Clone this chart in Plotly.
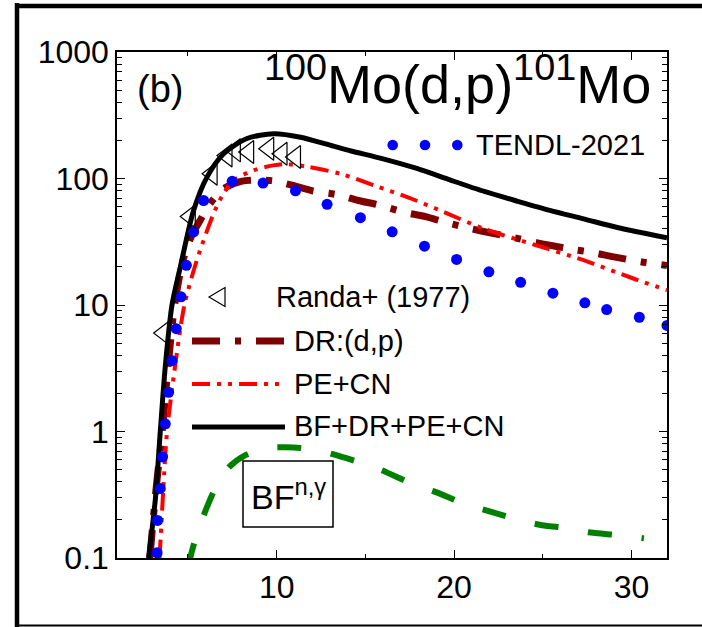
import plotly.graph_objects as go

# ---------------- data ----------------
tendl_x = [3.26, 3.29, 3.44, 3.57, 3.72, 3.91, 4.10, 4.34, 4.61, 4.91, 5.32, 5.88, 7.49, 9.23,
           11.06, 12.84, 14.72, 16.51, 18.33, 20.14, 21.96, 23.75, 25.57, 27.37, 28.6, 30.44, 32.0]
tendl_y = [0.11, 0.198, 0.355, 0.63, 1.15, 2.04, 3.63, 6.5, 11.6, 20.6, 37.9, 67, 95, 92,
           80, 62.5, 49, 37.9, 29.2, 22.9, 18.3, 15.1, 12.4, 10.4, 9.2, 8.0, 6.9]

randa_x = [3.63, 5.13, 6.36, 7.2, 7.67, 8.42, 9.55, 10.3, 11.06]
randa_y = [6.0, 50, 109, 152, 167, 162, 172, 157, 148]

dr_x = [2.85, 3.2, 3.55, 3.9, 4.25, 4.7, 5.2, 5.7, 6.2, 7.0, 8.0, 9.0, 9.8, 10.8, 12.0, 13.5,
        14.6, 15.7, 17.2, 18.4, 19.5, 21.0, 22.1, 23.4, 24.7, 26.7, 27.8, 29.0, 30.5, 32.0]
dr_y = [0.1, 0.35, 1.0, 3.5, 10, 22, 35, 47, 62, 83, 95, 97, 96, 89, 80, 74,
        67, 62, 54, 50, 45, 40, 37, 34, 31, 27.5, 26, 24, 22, 20.5]

pecn_x = [3.4, 3.6, 3.82, 4.3, 4.8, 5.5, 6.45, 7.0, 7.6, 8.7, 9.8, 10.6, 11.7, 13.6, 15.5,
          17.4, 19.2, 21.7, 24.5, 27.3, 30.1, 32.0]
pecn_y = [0.1, 0.33, 1.0, 3.5, 10, 22.6, 53, 76, 97, 116, 127, 130, 124, 109, 88,
          71, 56, 40, 30, 22.6, 16.2, 13.1]

tot_x = [2.78, 3.16, 3.44, 3.72, 4.1, 4.57, 5.32, 6.08, 7.01, 8.33, 9.83, 11.34, 13.2, 14.2,
         16.0, 17.9, 19.8, 21.7, 23.6, 25.4, 27.3, 29.2, 32.0]
tot_y = [0.1, 0.29, 1.0, 3.25, 10, 20, 56, 103, 157, 207, 226, 212, 180, 165,
         143, 120, 97, 79, 66, 56, 48, 41, 34]

bfng_x = [5.05, 5.13, 5.41, 6.08, 6.64, 7.3, 8.24, 9.46, 10.5, 11.34, 12.65, 14.5, 15.85,
          17.73, 18.86, 20.74, 22.05, 23.93, 25.16, 26.28, 27.5, 29.4, 30.7]
bfng_y = [0.085, 0.1, 0.14, 0.255, 0.38, 0.52, 0.65, 0.74, 0.75, 0.74, 0.69, 0.58, 0.50,
          0.38, 0.336, 0.264, 0.233, 0.195, 0.18, 0.173, 0.16, 0.151, 0.143]

x_tickvals = [10, 20, 30]
x_ticktext = ["10", "20", "30"]
y_tickvals = [0.1, 1, 10, 100, 1000]
y_ticktext = ["0.1", "1", "10", "100", "1000"]

legend_labels = ["TENDL-2021", "Randa+ (1977)", "DR:(d,p)", "PE+CN", "BF+DR+PE+CN"]
title_text = "<sup>100</sup>Mo(d,p)<sup>101</sup>Mo"
panel_text = "(b)"
box_text = "BF<sup>n,γ</sup>"

# ---------------- layout geometry (pixels) ----------------
W, H = 702, 627
L, R, T, B = 117, 667, 52, 558
FONT = "Liberation Sans, Arial, sans-serif"

def px(X):
    return (X - L) / (R - L)

def py(Y):
    return (B - Y) / (B - T)

DR_DASH = "28px,15px,6px,15px"
PE_DASH = "18px,7px,4px,7px,4px,7px"
GR_DASH = "24px,30px"

fig = go.Figure()
fig.add_trace(go.Scatter(x=bfng_x, y=bfng_y, mode="lines", line=dict(color="#008000", width=6, dash=GR_DASH, shape="spline", smoothing=0.8)))
fig.add_trace(go.Scatter(x=dr_x, y=dr_y, mode="lines", line=dict(color="#7f0000", width=7, dash=DR_DASH, shape="spline", smoothing=0.8)))
fig.add_trace(go.Scatter(x=pecn_x, y=pecn_y, mode="lines", line=dict(color="#ff0000", width=4, dash=PE_DASH, shape="spline", smoothing=0.8)))
fig.add_trace(go.Scatter(x=tot_x, y=tot_y, mode="lines", line=dict(color="black", width=5, shape="spline", smoothing=0.8)))
fig.add_trace(go.Scatter(x=tendl_x, y=tendl_y, mode="markers", marker=dict(color="#0000ff", size=11, line=dict(width=0))))
fig.add_trace(go.Scatter(x=randa_x, y=randa_y, mode="markers",
                         marker=dict(symbol="triangle-left-open", size=20, color="black", line=dict(width=1.2))))

shapes = []
# outer frame pieces
shapes.append(dict(type="line", xref="paper", yref="paper", x0=px(17), x1=px(17), y0=py(3), y1=py(627), line=dict(color="black", width=4.5)))
shapes.append(dict(type="line", xref="paper", yref="paper", x0=px(15), x1=px(702), y0=py(6), y1=py(6), line=dict(color="black", width=4.5)))
shapes.append(dict(type="line", xref="paper", yref="paper", x0=px(15), x1=px(702), y0=py(625.5), y1=py(625.5), line=dict(color="black", width=2)))

# legend samples
ys = {"dr": 341, "pe": 384, "tot": 427}
shapes.append(dict(type="line", xref="paper", yref="paper", x0=px(192), x1=px(286), y0=py(ys["dr"]), y1=py(ys["dr"]), line=dict(color="#7f0000", width=7, dash=DR_DASH)))
shapes.append(dict(type="line", xref="paper", yref="paper", x0=px(192), x1=px(284), y0=py(ys["pe"]), y1=py(ys["pe"]), line=dict(color="#ff0000", width=4, dash=PE_DASH)))
shapes.append(dict(type="line", xref="paper", yref="paper", x0=px(192), x1=px(285), y0=py(ys["tot"]), y1=py(ys["tot"]), line=dict(color="black", width=5)))
for cx in (392.7, 425.0, 457.3):
    r = 5.3
    shapes.append(dict(type="circle", xref="paper", yref="paper", x0=px(cx - r), x1=px(cx + r), y0=py(145 + r), y1=py(145 - r),
                       fillcolor="#0000ff", line=dict(width=0)))
# legend triangle (open, pointing left)
tx, ty = 217, 297
shapes.append(dict(type="path", xref="paper", yref="paper",
                   path="M {a},{b} L {c},{d} L {c},{e} Z".format(a=px(tx - 8), b=py(ty), c=px(tx + 8), d=py(ty - 9.5), e=py(ty + 9.5)),
                   line=dict(color="black", width=1.2)))
# BF box
shapes.append(dict(type="rect", xref="paper", yref="paper", x0=px(243), x1=px(333), y0=py(527), y1=py(461), line=dict(color="black", width=1.5)))

annotations = []
def ann(text, X, Y, size, xanchor="left", yanchor="middle"):
    annotations.append(dict(text=text, x=px(X), y=py(Y), xref="paper", yref="paper", showarrow=False,
                            xanchor=xanchor, yanchor=yanchor, font=dict(family=FONT, size=size, color="black")))

ann(legend_labels[0], 474, 145, 29)
ann(legend_labels[1], 274, 297, 29)
ann(legend_labels[2], 292, 341, 29)
ann(legend_labels[3], 292, 384, 29)
ann(legend_labels[4], 292, 426, 29)
ann(panel_text, 160, 89, 38, xanchor="center")
ann(title_text, 653, 80, 54, xanchor="right")
ann(box_text, 288, 494, 34, xanchor="center")

axis_common = dict(showline=True, linecolor="black", linewidth=1.5, mirror="allticks", ticks="inside",
                   tickcolor="black", tickwidth=1.2, ticklen=8, showgrid=False, zeroline=False,
                   tickfont=dict(family=FONT, size=32, color="black"))

fig.update_layout(
    width=W, height=H, margin=dict(l=L, r=W - R, t=T, b=H - B),
    paper_bgcolor="white", plot_bgcolor="white", showlegend=False,
    xaxis=dict(range=[1, 32], tickvals=x_tickvals, ticktext=x_ticktext,
               minor=dict(tickvals=[5, 15, 25], ticks="inside", ticklen=4, tickcolor="black", tickwidth=1.2),
               **axis_common),
    yaxis=dict(type="log", range=[-1, 3], tickvals=y_tickvals, ticktext=y_ticktext,
               minor=dict(dtick="D1", ticks="inside", ticklen=5, tickcolor="black", tickwidth=1.2),
               **axis_common),
    shapes=shapes, annotations=annotations,
)

fig.write_html("out.html")
